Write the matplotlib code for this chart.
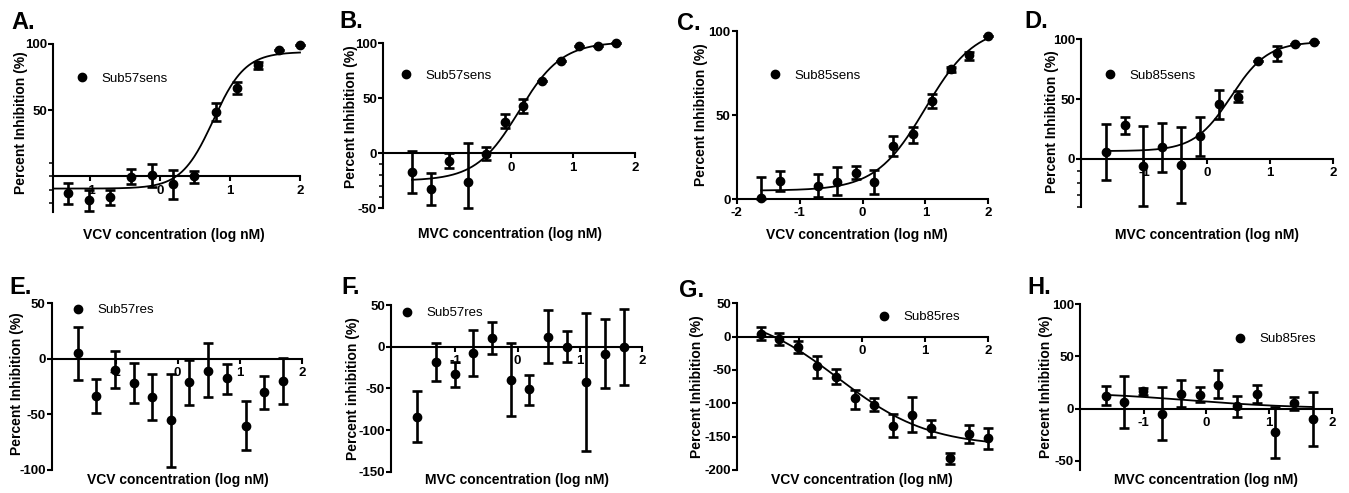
import numpy as np
import matplotlib
matplotlib.use("Agg")
import matplotlib.pyplot as plt
from matplotlib.lines import Line2D

plt.rcParams['font.family'] = ['Liberation Sans', 'DejaVu Sans']

W, H = 1349, 493

# ---------------- data ----------------
# A: Sub57sens, VCV
a_x = [-1.31, -1.01, -0.71, -0.41, -0.11, 0.19, 0.49, 0.80, 1.10, 1.40, 1.70, 2.00]
a_y = [-12.6, -17.7, -16.0, -0.5, 0.8, -6.0, 0.0, 48.7, 66.4, 84.0, 95.5, 99.2]
a_lo = [-21.0, -26.5, -22.0, -6.0, -8.0, -17.0, -5.0, 41.7, 62.0, 81.4, 95.5, 99.2]
a_hi = [-5.0, -10.0, -10.0, 5.5, 9.0, 5.0, 4.0, 55.6, 71.0, 86.6, 95.5, 99.2]
a_fit = [-9.3, 94.0, 0.76, 1.9]          # bottom, top, logEC50, hill

# B: Sub57sens, MVC
b_x = [-1.61, -1.31, -1.01, -0.71, -0.41, -0.11, 0.19, 0.49, 0.80, 1.10, 1.40, 1.70]
b_y = [-16.7, -32.4, -7.0, -26.3, -0.6, 28.7, 42.9, 65.5, 83.7, 97.5, 97.5, 100.3]
b_lo = [-35.7, -46.9, -13.6, -50.0, -6.5, 22.6, 36.8, 65.5, 83.7, 97.5, 97.5, 100.3]
b_hi = [2.4, -17.6, 0.0, 9.6, 5.6, 35.6, 49.2, 65.5, 83.7, 97.5, 97.5, 100.3]
b_fit = [-25.0, 101.0, 0.12, 1.25]

# C: Sub85sens, VCV
c_x = [-1.61, -1.31, -0.71, -0.41, -0.11, 0.19, 0.49, 0.80, 1.10, 1.40, 1.70, 2.00]
c_y = [0.5, 10.9, 7.9, 10.3, 15.7, 10.3, 31.5, 38.7, 58.5, 77.2, 85.7, 97.0]
c_lo = [0.0, 5.0, 1.0, 2.4, 11.7, 3.0, 25.6, 33.5, 54.0, 75.6, 82.7, 97.0]
c_hi = [12.9, 16.7, 14.9, 18.8, 19.8, 17.3, 37.5, 43.0, 62.5, 78.4, 87.7, 97.0]
c_fit = [5.0, 103.0, 1.0, 1.1]

# D: Sub85sens, MVC
d_x = [-1.61, -1.31, -1.01, -0.71, -0.41, -0.11, 0.19, 0.49, 0.80, 1.10, 1.40, 1.70]
d_y = [5.8, 28.6, -5.6, 9.7, -5.3, 18.9, 46.0, 52.0, 81.9, 88.3, 95.8, 98.0]
d_lo = [-18.0, 21.0, -39.0, -11.0, -37.0, 2.0, 33.6, 47.5, 81.9, 81.8, 95.8, 98.0]
d_hi = [29.4, 35.0, 27.8, 30.0, 26.6, 35.0, 57.8, 56.9, 81.9, 94.7, 95.8, 98.0]
d_fit = [6.5, 98.0, 0.38, 1.5]

# E: Sub57res, VCV
e_x = [-1.61, -1.31, -1.01, -0.71, -0.41, -0.11, 0.19, 0.49, 0.80, 1.10, 1.40, 1.70]
e_y = [5.0, -33.8, -9.6, -21.5, -34.4, -55.0, -20.9, -10.5, -17.4, -60.0, -29.9, -20.0]
e_lo = [-18.8, -48.4, -26.0, -39.8, -55.3, -97.0, -41.8, -34.4, -31.4, -82.2, -45.4, -40.3]
e_hi = [28.3, -18.3, 6.8, -3.9, -13.4, -13.4, -0.9, 14.0, -4.5, -38.3, -15.0, 0.5]

# F: Sub57res, MVC
f_x = [-1.61, -1.31, -1.01, -0.71, -0.41, -0.11, 0.19, 0.49, 0.80, 1.10, 1.40, 1.70]
f_y = [-84.0, -18.0, -33.2, -8.0, 10.8, -40.0, -51.2, 12.0, 0.0, -42.0, -8.8, 0.0]
f_lo = [-114.8, -40.8, -48.0, -35.0, -9.0, -83.0, -70.0, -20.0, -18.0, -124.8, -49.2, -46.0]
f_hi = [-53.0, 4.0, -18.0, 20.0, 30.0, 4.0, -34.0, 44.0, 18.8, 40.8, 32.9, 45.2]

# G: Sub85res, VCV
g_x = [-1.61, -1.31, -1.01, -0.71, -0.41, -0.11, 0.19, 0.49, 0.80, 1.10, 1.40, 1.70, 2.00]
g_y = [4.0, -4.0, -16.0, -44.0, -61.0, -92.5, -102.5, -133.5, -117.5, -137.5, -182.5, -146.0, -152.5]
g_lo = [-5.0, -12.5, -24.0, -62.0, -71.0, -108.0, -111.5, -151.0, -143.0, -150.0, -191.5, -159.0, -169.0]
g_hi = [15.0, 6.0, -6.0, -29.0, -49.0, -80.0, -91.5, -116.0, -91.0, -125.0, -175.0, -132.5, -137.5]
g_fit = [-165.0, 40.0, -0.375, -0.6]

# H: Sub85res, MVC
h_x = [-1.61, -1.31, -1.01, -0.71, -0.41, -0.11, 0.19, 0.49, 0.80, 1.10, 1.40, 1.70]
h_y = [12.0, 6.3, 16.5, -4.8, 13.7, 13.4, 22.9, 2.2, 14.3, -22.3, 5.3, -10.2]
h_lo = [3.2, -18.5, 13.4, -30.3, 1.0, 6.3, 10.1, -8.6, 5.4, -47.2, -1.0, -36.0]
h_hi = [21.3, 30.9, 19.7, 20.6, 27.0, 20.6, 36.6, 11.7, 22.3, 1.5, 11.1, 15.9]
h_fit = [0.0, 16.0, -0.3, -0.5]

letters = ["A.", "B.", "C.", "D.", "E.", "F.", "G.", "H."]
legend_names = ["Sub57sens", "Sub57sens", "Sub85sens", "Sub85sens",
                "Sub57res", "Sub57res", "Sub85res", "Sub85res"]
x_titles = ["VCV concentration (log nM)", "MVC concentration (log nM)"] * 4
y_titles = ["Percent Inhibition (%)"] * 5 + ["Percent inhibition (%)"] + ["Percent Inhibition (%)"] * 2

# ---------------- layout (pixels in the 1349x493 image) ----------------
panels = [
    dict(x=a_x, y=a_y, lo=a_lo, hi=a_hi, fit=a_fit, fitx=(-1.53, 2.0),
         xlim=(-1.53, 2.0), ylim=(-27, 100), box=(53, 300, 44, 212),
         xt=[-1, 0, 1, 2], xtl=['-1', '0', '1', '2'], yt=[50, 100], minor=[10, 0, -10, -20],
         letter=(11, 29), ylab=(21, 123), xlab=(174, 235), leg=(82, 79)),
    dict(x=b_x, y=b_y, lo=b_lo, hi=b_hi, fit=b_fit, fitx=(-1.61, 1.70),
         xlim=(-2.08, 2.0), ylim=(-50, 100), box=(383, 635, 43, 208.3),
         xt=[-1, 0, 1, 2], xtl=['', '0', '1', '2'], yt=[-50, 0, 50, 100], minor=[-10, -20, -30, -40],
         letter=(339, 28), ylab=(351, 117), xlab=(510, 234), leg=(406, 76)),
    dict(x=c_x, y=c_y, lo=c_lo, hi=c_hi, fit=c_fit, fitx=(-1.61, 2.0),
         xlim=(-2.0, 2.0), ylim=(0, 100), box=(736.7, 988.3, 31, 199),
         xt=[-2, -1, 0, 1, 2], xtl=['-2', '-1', '0', '1', '2'], yt=[0, 50, 100], minor=[],
         letter=(677, 30), ylab=(701, 115), xlab=(857, 235), leg=(775, 76)),
    dict(x=d_x, y=d_y, lo=d_lo, hi=d_hi, fit=d_fit, fitx=(-1.61, 1.70),
         xlim=(-2.0, 2.0), ylim=(-40, 100), box=(1081, 1333.3, 39.3, 206.7),
         xt=[-1, 0, 1, 2], xtl=['-1', '0', '1', '2'], yt=[0, 50, 100], minor=[-10, -20, -30, -40],
         letter=(1024, 28), ylab=(1052, 122), xlab=(1207, 235), leg=(1110, 76)),
    dict(x=e_x, y=e_y, lo=e_lo, hi=e_hi, fit=None, fitx=None,
         xlim=(-2.03, 2.0), ylim=(-100, 50), box=(51.7, 301.7, 303.3, 470),
         xt=[-1, 0, 1, 2], xtl=['-1', '0', '1', '2'], yt=[-100, -50, 0, 50], minor=[],
         letter=(9, 294), ylab=(17, 384), xlab=(178, 480), leg=(78, 310)),
    dict(x=f_x, y=f_y, lo=f_lo, hi=f_hi, fit=None, fitx=None,
         xlim=(-2.03, 2.0), ylim=(-150, 50), box=(391, 642.3, 305, 471.7),
         xt=[-1, 0, 1, 2], xtl=['-1', '0', '1', '2'], yt=[-150, -100, -50, 0, 50], minor=[],
         letter=(341, 294), ylab=(353, 389), xlab=(517, 480), leg=(407, 313)),
    dict(x=g_x, y=g_y, lo=g_lo, hi=g_hi, fit=g_fit, fitx=(-1.61, 2.0),
         xlim=(-1.98, 2.0), ylim=(-200, 50), box=(737.3, 987.7, 303.3, 470),
         xt=[-1, 0, 1, 2], xtl=['', '0', '1', '2'], yt=[-200, -150, -100, -50, 0, 50], minor=[],
         letter=(679, 297), ylab=(697, 387), xlab=(862, 480), leg=(884, 317)),
    dict(x=h_x, y=h_y, lo=h_lo, hi=h_hi, fit=h_fit, fitx=(-1.61, 1.70),
         xlim=(-2.02, 2.0), ylim=(-59, 100), box=(1080, 1331.7, 304.3, 470),
         xt=[-1, 0, 1, 2], xtl=['-1', '0', '1', '2'], yt=[-50, 0, 50, 100], minor=[],
         letter=(1027, 294), ylab=(1046, 387), xlab=(1206, 480), leg=(1240, 339)),
]

fig = plt.figure(figsize=(W / 100, H / 100), dpi=100)
fig.patch.set_facecolor('white')

def fx(px):
    return px / W

def fy(py):
    return 1 - py / H

def four_pl(xx, p):
    bottom, top, x50, hill = p
    return bottom + (top - bottom) / (1 + 10 ** ((x50 - xx) * hill))

TICK_FS = 9.5
LAB_FS = 10
SPINE_W = 1.5

for i, p in enumerate(panels):
    l, r, t, b = p['box']
    ax = fig.add_axes([fx(l), fy(b), (r - l) / W, (b - t) / H])
    ax.set_xlim(*p['xlim'])
    ax.set_ylim(*p['ylim'])
    ax.patch.set_alpha(0)
    for s in ['top', 'right']:
        ax.spines[s].set_visible(False)
    ax.spines['bottom'].set_position(('data', 0))
    ax.spines['left'].set_linewidth(SPINE_W)
    ax.spines['bottom'].set_linewidth(SPINE_W)

    ax.set_xticks(p['xt'])
    ax.set_xticklabels(p['xtl'])
    ax.set_yticks(p['yt'])
    ax.set_yticklabels([str(v) for v in p['yt']])
    if p['minor']:
        ax.set_yticks(p['minor'], minor=True)
    ax.tick_params(axis='both', which='major', direction='out', length=3.6, width=SPINE_W,
                   labelsize=TICK_FS)
    ax.tick_params(axis='y', which='major', pad=0.8)
    ax.tick_params(axis='x', which='major', pad=2.5)
    ax.tick_params(axis='y', which='minor', direction='out', length=3.0, width=1.1)
    for lab in ax.get_xticklabels() + ax.get_yticklabels():
        lab.set_fontweight('bold')

    xs = np.array(p['x'])
    ys = np.array(p['y'])
    lo = np.array(p['lo'])
    hi = np.array(p['hi'])
    yerr = np.vstack([ys - lo, hi - ys])
    eb = ax.errorbar(xs, ys, yerr=yerr, fmt='o', color='black', markersize=6,
                     elinewidth=1.9, capsize=3.3, capthick=1.9, zorder=3, clip_on=False)
    for art in eb.get_children():
        art.set_clip_on(False)

    if p['fit'] is not None:
        xx = np.linspace(p['fitx'][0], p['fitx'][1], 300)
        ax.plot(xx, four_pl(xx, p['fit']), color='black', lw=1.3, zorder=2.5, clip_on=False)

    handle = Line2D([], [], marker='o', linestyle='none', color='black', markersize=6)
    em = TICK_FS * 100 / 72
    mx, my = p['leg']
    ax.legend([handle], [legend_names[i]], loc='center left', frameon=False,
              bbox_to_anchor=(fx(mx - 0.5 * em), fy(my)), bbox_transform=fig.transFigure,
              handlelength=1.0, handletextpad=1.0, borderpad=0, borderaxespad=0,
              prop={'size': TICK_FS})

    lx, ly = p['letter']
    fig.text(fx(lx), fy(ly), letters[i], fontsize=17, fontweight='bold', ha='left', va='baseline')
    cx, cy = p['ylab']
    fig.text(fx(cx), fy(cy), y_titles[i], fontsize=LAB_FS, fontweight='bold', rotation=90,
             ha='center', va='center')
    cx, cy = p['xlab']
    fig.text(fx(cx), fy(cy), x_titles[i], fontsize=LAB_FS, fontweight='bold',
             ha='center', va='center')

fig.savefig('out.png', dpi=100)
